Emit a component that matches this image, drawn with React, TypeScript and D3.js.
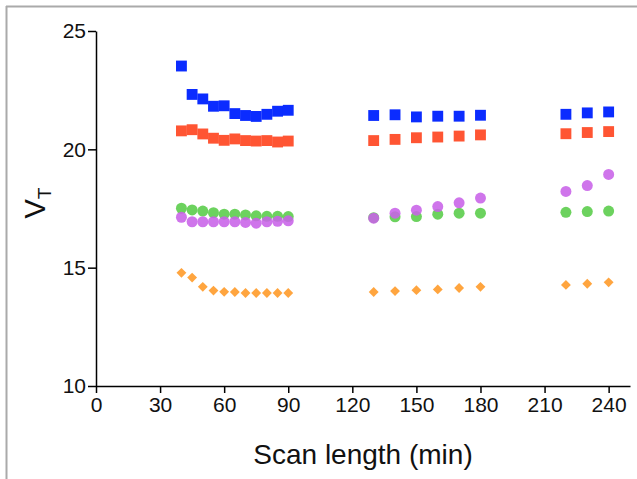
import { useEffect, useRef } from "react";
import * as d3 from "d3";

// scan lengths (min)
const scanLengths = [40, 45, 50, 55, 60, 65, 70, 75, 80, 85, 90, 130, 140, 150, 160, 170, 180, 220, 230, 240];

const blueValues = [23.52, 22.32, 22.13, 21.82, 21.84, 21.51, 21.43, 21.39, 21.48, 21.61, 21.65, 21.43, 21.46, 21.37, 21.4, 21.4, 21.44, 21.48, 21.54, 21.58];
const redValues = [20.78, 20.83, 20.65, 20.47, 20.38, 20.44, 20.37, 20.35, 20.37, 20.31, 20.35, 20.37, 20.42, 20.49, 20.52, 20.56, 20.61, 20.66, 20.71, 20.75];
const greenValues = [17.51, 17.44, 17.39, 17.32, 17.26, 17.26, 17.23, 17.19, 17.17, 17.17, 17.16, 17.11, 17.15, 17.16, 17.26, 17.3, 17.3, 17.34, 17.37, 17.39];
const purpleValues = [17.13, 16.94, 16.94, 16.94, 16.94, 16.94, 16.91, 16.88, 16.94, 16.96, 16.98, 17.09, 17.3, 17.43, 17.58, 17.74, 17.94, 18.22, 18.47, 18.94];
const orangeValues = [14.78, 14.58, 14.19, 14.03, 13.98, 13.97, 13.93, 13.93, 13.93, 13.93, 13.93, 13.97, 14.01, 14.05, 14.08, 14.14, 14.19, 14.27, 14.32, 14.38];

const xTicks = [0, 30, 60, 90, 120, 150, 180, 210, 240];
const yTicks = [10, 15, 20, 25];

const series = [
  { values: blueValues, color: "#0b2cff", shape: "square" },
  { values: redValues, color: "#ff5533", shape: "square" },
  { values: greenValues, color: "#58cc48", shape: "circle" },
  { values: purpleValues, color: "#c862e8", shape: "circle" },
  { values: orangeValues, color: "#ffa53f", shape: "diamond" },
];

const App = () => {
  const svgRef = useRef<SVGSVGElement>(null);

  useEffect(() => {
    const width = 637;
    const height = 479;
    const font = "'Liberation Sans', Arial, sans-serif";

    const root = d3.select(svgRef.current);
    root.selectAll("*").remove();
    root.attr("width", width).attr("height", height);

    // background + frame (top and left edges)
    root.append("rect").attr("width", width).attr("height", height).attr("fill", "white");
    root.append("line").attr("x1", 6).attr("x2", width).attr("y1", 6.5).attr("y2", 6.5)
      .attr("stroke", "#aaa").attr("stroke-width", 2);
    root.append("line").attr("x1", 6.5).attr("x2", 6.5).attr("y1", 6).attr("y2", height)
      .attr("stroke", "#aaa").attr("stroke-width", 2);

    const x = d3.scaleLinear().domain([0, 250]).range([96, 630]);
    const y = d3.scaleLinear().domain([10, 25]).range([386, 31]);

    // X axis
    const xAxis = root
      .append("g")
      .attr("transform", `translate(0, ${y(10)})`)
      .call(d3.axisBottom(x).tickValues(xTicks).tickSize(7).tickPadding(4).tickSizeOuter(0));
    xAxis.select(".domain").attr("stroke", "black").attr("stroke-width", 1.5);
    xAxis.selectAll(".tick line").attr("stroke", "black").attr("stroke-width", 1.5);
    xAxis.selectAll("text").attr("fill", "#111").attr("font-size", 21).attr("font-family", font);

    // Y axis
    const yAxis = root
      .append("g")
      .attr("transform", `translate(${x(0)}, 0)`)
      .call(d3.axisLeft(y).tickValues(yTicks).tickSize(8).tickPadding(2).tickSizeOuter(0));
    yAxis.select(".domain").attr("stroke", "black").attr("stroke-width", 1.5);
    yAxis.selectAll(".tick line").attr("stroke", "black").attr("stroke-width", 1.5);
    yAxis.selectAll("text").attr("fill", "#111").attr("font-size", 21).attr("font-family", font);

    // axis titles
    root
      .append("text")
      .attr("x", (x(0) + x(250)) / 2)
      .attr("y", 464)
      .attr("text-anchor", "middle")
      .attr("font-size", 28)
      .attr("font-family", font)
      .attr("fill", "#111")
      .text("Scan length (min)");

    const yTitle = root
      .append("text")
      .attr("transform", "translate(45, 203) rotate(-90)")
      .attr("text-anchor", "middle")
      .attr("font-family", font)
      .attr("fill", "#111");
    yTitle.append("tspan").attr("font-size", 29).text("V");
    yTitle.append("tspan").attr("font-size", 19).attr("dy", 6).text("T");

    // points
    const symbols: Record<string, d3.SymbolType> = {
      square: d3.symbolSquare,
      circle: d3.symbolCircle,
      diamond: d3.symbolDiamond2,
    };
    const sizes: Record<string, number> = { square: 118, circle: 95, diamond: 62 };

    series.forEach((s) => {
      const sym = d3.symbol().type(symbols[s.shape]).size(sizes[s.shape]);
      root
        .append("g")
        .selectAll("path")
        .data(s.values)
        .enter()
        .append("path")
        .attr("d", sym)
        .attr("transform", (d, i) => `translate(${x(scanLengths[i])}, ${y(d)})`)
        .attr("fill", s.color)
        .attr("fill-opacity", s.shape === "circle" ? 0.88 : 1);
    });
  }, []);

  return <svg ref={svgRef} style={{ position: "absolute", left: 0, top: 0 }}></svg>;
};

export default App;
